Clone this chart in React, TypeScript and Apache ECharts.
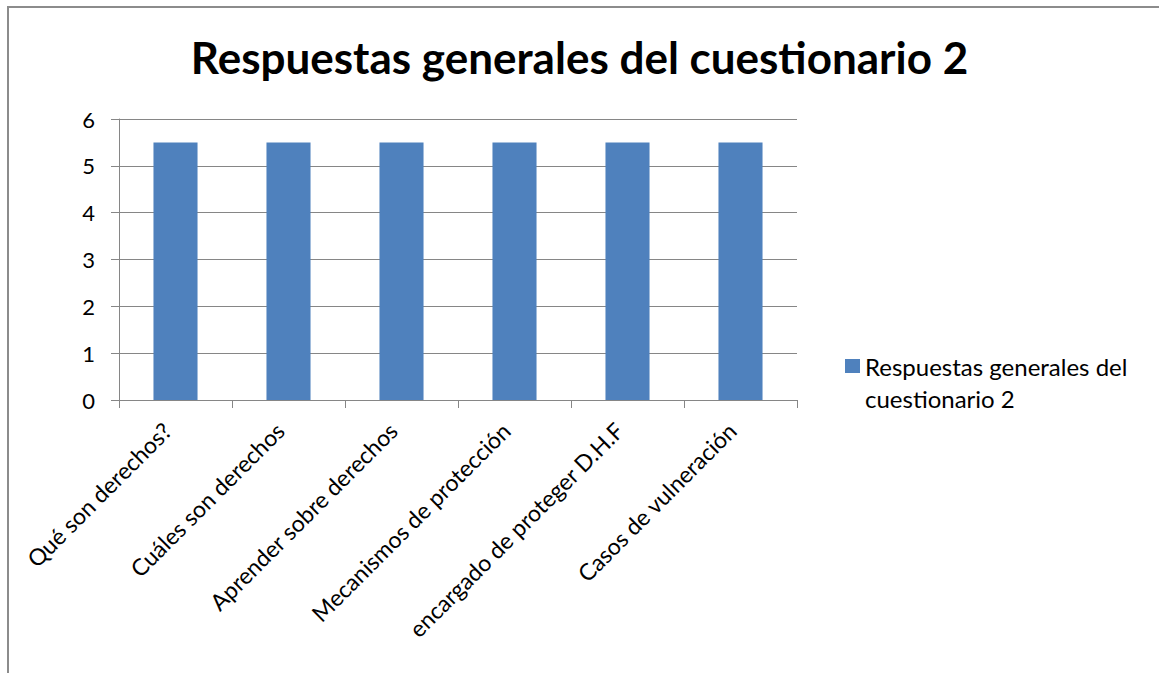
import React, { useEffect, useRef } from "react";
import * as echarts from "echarts";

const categories = [
  "Qué son derechos?",
  "Cuáles son derechos",
  "Aprender sobre derechos",
  "Mecanismos de protección",
  "encargado de proteger D.H.F",
  "Casos de vulneración",
];
const values = [5.5, 5.5, 5.5, 5.5, 5.5, 5.5];
const seriesName = "Respuestas generales del cuestionario 2";
const titleText = "Respuestas generales del cuestionario 2";
const legendLines = ["Respuestas generales del", "cuestionario 2"];

const FONT = "Lato, 'Open Sans', sans-serif";

export default function App() {
  const ref = useRef<HTMLDivElement>(null);
  useEffect(() => {
    if (!ref.current) return;
    const chart = echarts.init(ref.current, undefined, { renderer: "svg" });
    chart.setOption({
      animation: false,
      backgroundColor: "#ffffff",
      title: {
        text: titleText,
        left: "center",
        top: 30,
        textStyle: { fontFamily: FONT, fontSize: 44, fontWeight: "bold", color: "#000" },
      },
      graphic: [
        {
          type: "rect",
          shape: { x: 8, y: 7, width: 1200, height: 700 },
          style: { fill: "none", stroke: "#8c8c8c", lineWidth: 2 },
          silent: true,
        },
      ],
      legend: {
        orient: "vertical",
        left: 840,
        top: 313,
        itemWidth: 15,
        itemHeight: 14,
        itemGap: 6,
        icon: "rect",
        formatter: () => "\u00a0\n" + legendLines.join("\n"),
        textStyle: {
          fontFamily: FONT,
          fontSize: 24,
          color: "#000",
          lineHeight: 32,
        },
      },
      grid: { left: 119, top: 119, width: 678, height: 281, containLabel: false },
      xAxis: {
        type: "category",
        data: categories,
        axisLine: { show: true, lineStyle: { color: "#868686", width: 1 } },
        axisTick: { show: true, length: 8, lineStyle: { color: "#868686" } },
        axisLabel: {
          interval: 0,
          rotate: 45,
          margin: 18,
          padding: [0, 12, 0, 0],
          fontFamily: FONT,
          fontSize: 23,
          color: "#000",
        },
      },
      yAxis: {
        type: "value",
        min: 0,
        max: 6,
        interval: 1,
        axisLine: { show: true, lineStyle: { color: "#868686", width: 1 } },
        axisTick: { show: true, length: 8, lineStyle: { color: "#868686" } },
        splitLine: { show: true, lineStyle: { color: "#868686", width: 1 } },
        axisLabel: { fontFamily: FONT, fontSize: 22, color: "#000", margin: 24 },
      },
      series: [
        {
          name: seriesName,
          type: "bar",
          data: values,
          barWidth: "39%",
          itemStyle: { color: "#4f81bd" },
        },
      ],
    });
    return () => chart.dispose();
  }, []);
  return (
    <div
      ref={ref}
      style={{ position: "fixed", left: 0, top: 0, width: 1159, height: 673, background: "#fff" }}
    />
  );
}
